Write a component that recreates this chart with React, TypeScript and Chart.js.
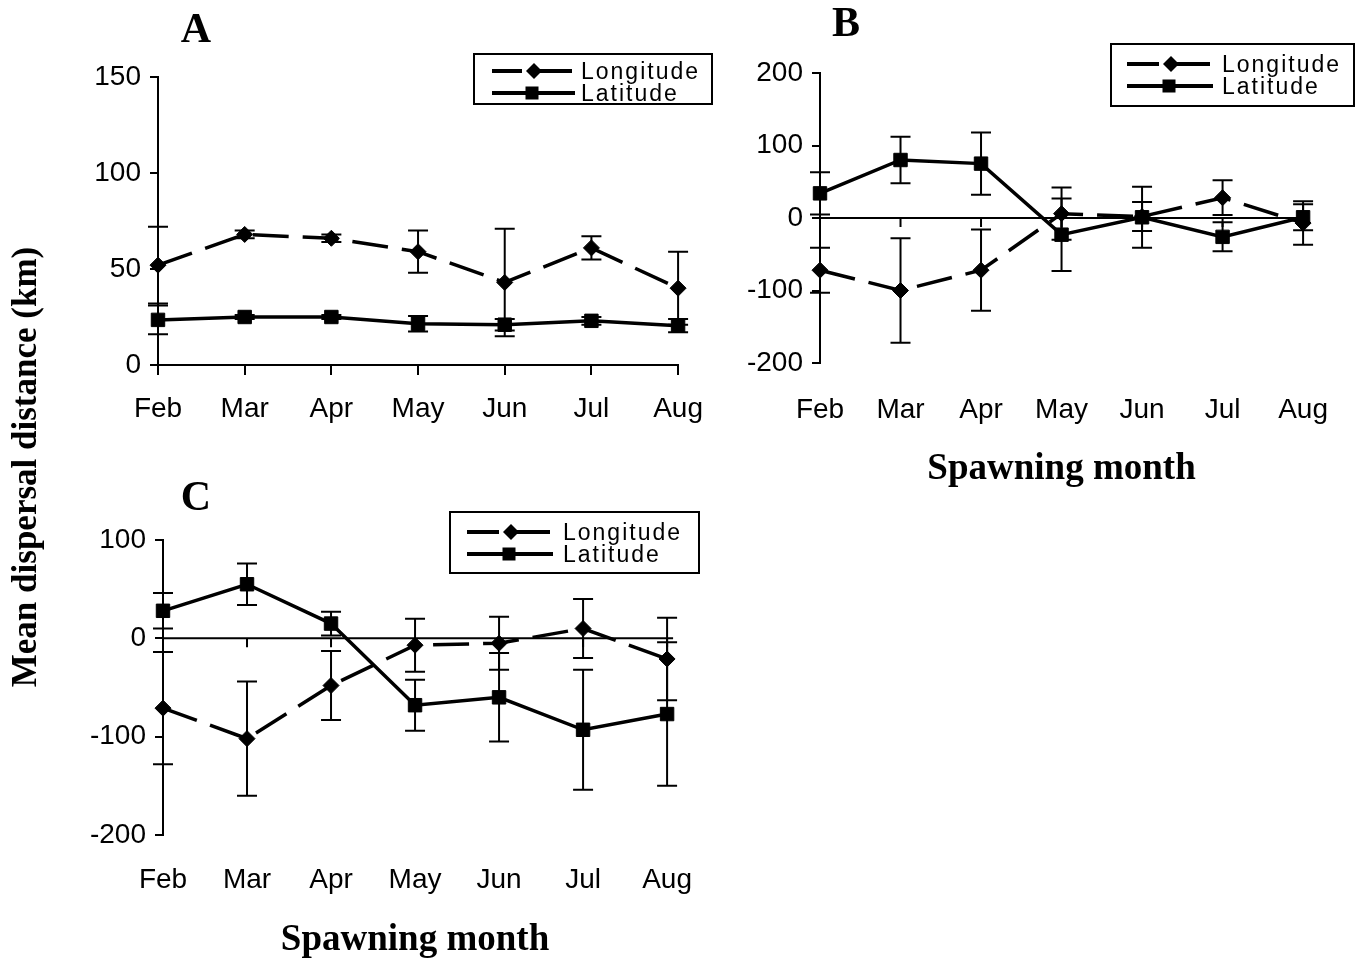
import React, { useEffect, useRef } from 'react';
import { Chart, registerables } from 'chart.js';

Chart.register(...registerables);

// ---------- data ----------
const months = ['Feb', 'Mar', 'Apr', 'May', 'Jun', 'Jul', 'Aug'];

// Panel A
const lonA = [52, 68, 66, 59, 43, 61, 40];
const lonAErr = [20, 2, 2, 11, 28, 6, 19];
const latA = [23.5, 25, 25, 21.5, 21, 23, 20.5];
const latAErr = [7.5, 1, 1, 4, 3, 2, 3.5];
const yTicksA = { min: 0, max: 150, step: 50 };

// Panel B
const lonB = [-72, -100, -72, 6, 2, 28, -7];
const lonBErr = [31, 72, 56, 36, 20, 24, 30];
const latB = [34, 80, 75, -23, 1, -26, 1];
const latBErr = [29, 32, 43, 50, 42, 20, 18];
const yTicksB = { min: -200, max: 200, step: 100 };

// Panel C
const lonC = [-71, -102, -48, -7, -5, 10, -21];
const lonCErr = [57, 58, 35, 27, 27, 30, 42];
const latC = [28, 55, 15, -68, -60, -93, -77];
const latCErr = [18, 21, 12, 26, 45, 61, 73];
const yTicksC = { min: -200, max: 100, step: 100 };

const seriesNames = ['Longitude', 'Latitude'];
const xAxisTitle = 'Spawning month';
const yAxisTitle = 'Mean dispersal distance (km)';

// ---------- styling ----------
const SANS = '"Liberation Sans", Arial, sans-serif';
const SERIF = '"Liberation Serif", "Times New Roman", serif';
const DASH = [36, 14];

type LegendSpec = {
  x: number; y: number; w: number; h: number;
  rows: number[]; sx1: number; sx2: number; mx: number; tx: number;
};

type PanelSpec = {
  left: number; top: number; w: number; h: number;
  yW: number; padR: number; padT: number; xH: number;
  xPad: number; xTickMarks: boolean; zeroLine: boolean;
  title: boolean; titlePadB: number;
  lon: number[]; lonErr: number[]; lat: number[]; latErr: number[];
  yt: { min: number; max: number; step: number };
  letter: string; letterX: number; letterY: number;
  legend: LegendSpec;
};

function drawDiamond(ctx: CanvasRenderingContext2D, x: number, y: number, r: number) {
  ctx.beginPath();
  ctx.moveTo(x, y - r);
  ctx.lineTo(x + r, y);
  ctx.lineTo(x, y + r);
  ctx.lineTo(x - r, y);
  ctx.closePath();
  ctx.fill();
}

const errorBarPlugin = {
  id: 'errorBars',
  afterDatasetsDraw(chart: any) {
    const ctx = chart.ctx as CanvasRenderingContext2D;
    const ys = chart.scales.y;
    chart.data.datasets.forEach((ds: any, i: number) => {
      const meta = chart.getDatasetMeta(i);
      const errs: number[] = ds.errors || [];
      meta.data.forEach((pt: any, j: number) => {
        const e = errs[j];
        if (!e) return;
        const v = ds.data[j] as number;
        const yTop = ys.getPixelForValue(v + e);
        const yBot = ys.getPixelForValue(v - e);
        const cap = 10;
        ctx.save();
        ctx.setLineDash([]);
        ctx.strokeStyle = '#000';
        ctx.lineWidth = 2;
        ctx.beginPath();
        ctx.moveTo(pt.x, yTop);
        ctx.lineTo(pt.x, yBot);
        ctx.moveTo(pt.x - cap, yTop);
        ctx.lineTo(pt.x + cap, yTop);
        ctx.moveTo(pt.x - cap, yBot);
        ctx.lineTo(pt.x + cap, yBot);
        ctx.stroke();
        ctx.restore();
      });
    });
  },
};

function makeZeroLinePlugin(spec: PanelSpec) {
  return {
    id: 'zeroLine',
    beforeDatasetsDraw(chart: any) {
      if (!spec.zeroLine) return;
      const ctx = chart.ctx as CanvasRenderingContext2D;
      const xs = chart.scales.x;
      const ys = chart.scales.y;
      const y0 = ys.getPixelForValue(0);
      ctx.save();
      ctx.strokeStyle = '#000';
      ctx.lineWidth = 2;
      ctx.beginPath();
      ctx.moveTo(chart.chartArea.left, y0);
      ctx.lineTo(chart.chartArea.right + 6, y0);
      for (let i = 0; i < months.length; i++) {
        const x = xs.getPixelForValue(i);
        ctx.moveTo(x, y0);
        ctx.lineTo(x, y0 + 9);
      }
      ctx.stroke();
      ctx.restore();
    },
  };
}

function makeDecorPlugin(spec: PanelSpec) {
  return {
    id: 'decor',
    afterDraw(chart: any) {
      const ctx = chart.ctx as CanvasRenderingContext2D;
      ctx.save();
      // panel letter
      ctx.fillStyle = '#000';
      ctx.font = `bold 42px ${SERIF}`;
      ctx.textAlign = 'center';
      ctx.textBaseline = 'alphabetic';
      ctx.fillText(spec.letter, spec.letterX, spec.letterY);
      // legend
      const L = spec.legend;
      ctx.fillStyle = '#fff';
      ctx.fillRect(L.x, L.y, L.w, L.h);
      ctx.strokeStyle = '#000';
      ctx.lineWidth = 2;
      ctx.strokeRect(L.x, L.y, L.w, L.h);
      chart.data.datasets.forEach((ds: any, i: number) => {
        const y = L.rows[i];
        ctx.save();
        ctx.strokeStyle = '#000';
        ctx.lineWidth = 4;
        ctx.setLineDash([]);
        ctx.fillStyle = '#000';
        ctx.beginPath();
        if (ds.pointStyle === 'rectRot') {
          ctx.moveTo(L.sx1, y);
          ctx.lineTo(L.mx - 12, y);
          ctx.moveTo(L.mx + 6, y);
          ctx.lineTo(L.sx2, y);
          ctx.stroke();
          drawDiamond(ctx, L.mx, y, 8);
        } else {
          ctx.moveTo(L.sx1, y);
          ctx.lineTo(L.sx2 + 3, y);
          ctx.stroke();
          ctx.fillRect(L.mx - 2 - 6.5, y - 6.5, 13, 13);
        }
        ctx.restore();
        ctx.save();
        ctx.fillStyle = '#000';
        ctx.font = `23px ${SANS}`;
        (ctx as any).letterSpacing = '2px';
        ctx.textAlign = 'left';
        ctx.textBaseline = 'middle';
        ctx.fillText(ds.label, L.tx, y + 2);
        ctx.restore();
      });
      ctx.restore();
    },
  };
}

function buildConfig(spec: PanelSpec): any {
  const tickFont = { family: SANS, size: 28 };
  return {
    type: 'line',
    data: {
      labels: months,
      datasets: [
        {
          label: seriesNames[0],
          data: spec.lon,
          errors: spec.lonErr,
          borderColor: '#000',
          backgroundColor: '#000',
          borderWidth: 3.5,
          borderDash: DASH,
          pointStyle: 'rectRot',
          pointRadius: 8,
          pointBackgroundColor: '#000',
          pointBorderColor: '#000',
          pointBorderWidth: 1,
          tension: 0,
          fill: false,
        },
        {
          label: seriesNames[1],
          data: spec.lat,
          errors: spec.latErr,
          borderColor: '#000',
          backgroundColor: '#000',
          borderWidth: 3.5,
          pointStyle: 'rect',
          pointRadius: 9.5,
          pointBackgroundColor: '#000',
          pointBorderColor: '#000',
          pointBorderWidth: 1,
          tension: 0,
          fill: false,
        },
      ],
    },
    options: {
      responsive: false,
      animation: false,
      devicePixelRatio: 1,
      events: [],
      layout: { padding: { left: 0, right: spec.padR, top: spec.padT, bottom: 0 } },
      plugins: { legend: { display: false }, tooltip: { enabled: false }, title: { display: false } },
      scales: {
        x: {
          type: 'category',
          offset: false,
          grid: spec.xTickMarks
            ? { display: true, drawOnChartArea: false, drawTicks: true, tickLength: 10, color: '#000', lineWidth: 2 }
            : { display: false, drawTicks: false },
          border: { display: spec.xTickMarks, color: '#000', width: 2 },
          ticks: { font: tickFont, color: '#000', padding: spec.xPad, maxRotation: 0, autoSkip: false },
          title: spec.title
            ? {
                display: true,
                text: xAxisTitle,
                color: '#000',
                font: { family: SERIF, size: 37, weight: 'bold' },
                padding: { top: 0, bottom: spec.titlePadB },
              }
            : { display: false },
          afterFit: (s: any) => {
            s.height = spec.xH;
          },
        },
        y: {
          min: spec.yt.min,
          max: spec.yt.max,
          ticks: { stepSize: spec.yt.step, font: tickFont, color: '#000', padding: 9 },
          grid: { display: true, drawOnChartArea: false, drawTicks: true, tickLength: 8, color: '#000', lineWidth: 2 },
          border: { display: true, color: '#000', width: 2 },
          afterFit: (s: any) => {
            s.width = spec.yW;
          },
        },
      },
    },
    plugins: [makeZeroLinePlugin(spec), errorBarPlugin, makeDecorPlugin(spec)],
  };
}

const panelA: PanelSpec = {
  left: 0, top: 0, w: 720, h: 440,
  yW: 158, padR: 36, padT: 77, xH: 75,
  xPad: 17, xTickMarks: true, zeroLine: false,
  title: false, titlePadB: 0,
  lon: lonA, lonErr: lonAErr, lat: latA, latErr: latAErr, yt: yTicksA,
  letter: 'A', letterX: 196, letterY: 42,
  legend: { x: 474, y: 54, w: 238, h: 50, rows: [71, 93], sx1: 492, sx2: 572, mx: 534, tx: 581 },
};

const panelB: PanelSpec = {
  left: 720, top: 0, w: 638, h: 500,
  yW: 100, padR: 32, padT: 73, xH: 137,
  xPad: 30, xTickMarks: false, zeroLine: true,
  title: true, titlePadB: 8,
  lon: lonB, lonErr: lonBErr, lat: latB, latErr: latBErr, yt: yTicksB,
  letter: 'B', letterX: 126, letterY: 36,
  legend: { x: 391, y: 44, w: 243, h: 62, rows: [64, 86], sx1: 407, sx2: 490, mx: 451, tx: 502 },
};

const panelC: PanelSpec = {
  left: 0, top: 480, w: 720, h: 483,
  yW: 163, padR: 52, padT: 60, xH: 128,
  xPad: 28, xTickMarks: false, zeroLine: true,
  title: true, titlePadB: 0,
  lon: lonC, lonErr: lonCErr, lat: latC, latErr: latCErr, yt: yTicksC,
  letter: 'C', letterX: 196, letterY: 30,
  legend: { x: 450, y: 32, w: 249, h: 61, rows: [52, 74], sx1: 467, sx2: 550, mx: 511, tx: 563 },
};

function Panel({ spec }: { spec: PanelSpec }) {
  const ref = useRef<HTMLCanvasElement>(null);
  useEffect(() => {
    if (!ref.current) return;
    const chart = new Chart(ref.current, buildConfig(spec));
    return () => chart.destroy();
  }, [spec]);
  return (
    <canvas
      ref={ref}
      width={spec.w}
      height={spec.h}
      style={{ position: 'absolute', left: spec.left, top: spec.top, width: spec.w, height: spec.h }}
    />
  );
}

export default function App() {
  return (
    <div style={{ position: 'absolute', left: 0, top: 0, width: 1358, height: 963, background: '#fff', overflow: 'hidden' }}>
      <Panel spec={panelA} />
      <Panel spec={panelB} />
      <Panel spec={panelC} />
      <div
        style={{
          position: 'absolute',
          left: 25 - 300,
          top: 467 - 22,
          width: 600,
          height: 44,
          lineHeight: '44px',
          textAlign: 'center',
          fontFamily: SERIF,
          fontWeight: 'bold',
          fontSize: 35,
          color: '#000',
          whiteSpace: 'nowrap',
          transform: 'rotate(-90deg)',
        }}
      >
        {yAxisTitle}
      </div>
    </div>
  );
}
